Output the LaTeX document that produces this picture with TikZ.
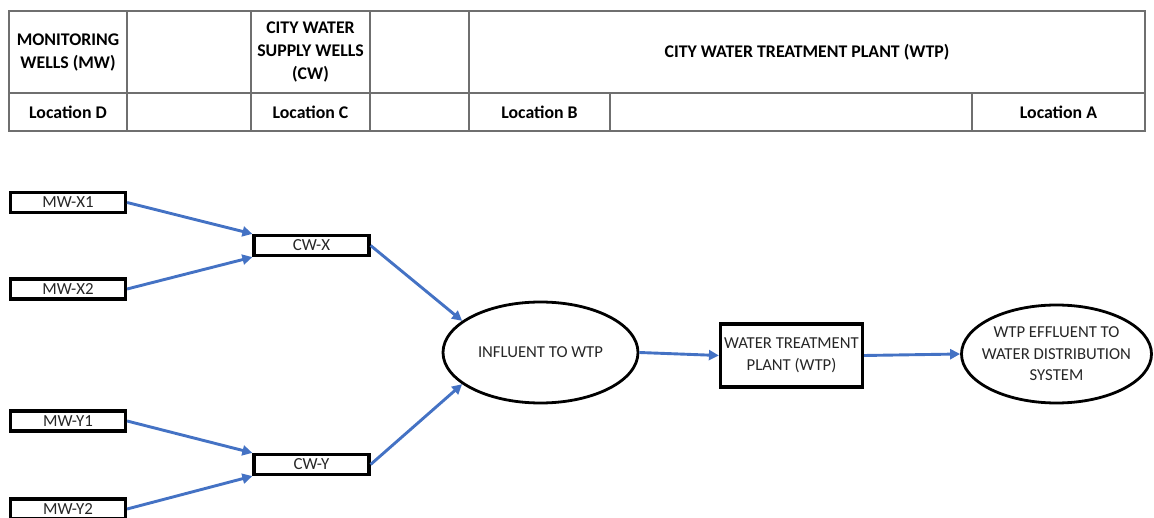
\documentclass[tikz,border=0pt]{standalone}
\usepackage{fontspec}
\setmainfont{Carlito}
\usetikzlibrary{shapes.geometric,arrows.meta}
\definecolor{flow}{HTML}{4472C4}
\definecolor{grid}{HTML}{6F6F6F}
\definecolor{txt}{HTML}{262626}
\tikzset{
  hdr/.style={font=\fontsize{17.8}{23}\selectfont\bfseries, align=center, inner sep=0pt},
  wellbox/.style={draw=black, line width=3.2pt, minimum width=115pt, minimum height=20pt, inner sep=0pt, text=txt, font=\fontsize{16.9}{20}\selectfont},
  oval/.style={ellipse, draw=black, line width=2.8pt, inner sep=0pt, text=txt, align=center, font=\fontsize{16.7}{21.5}\selectfont},
  plantbox/.style={draw=black, line width=3.2pt, minimum width=142pt, minimum height=63pt, inner sep=0pt, text=txt, align=center, font=\fontsize{16.7}{22}\selectfont},
  flowarrow/.style={draw=flow, line width=2.9pt, -{Triangle[length=10pt,width=10pt]}},
  gridline/.style={draw=grid, line width=1.5pt}
}
\begin{document}
\begin{tikzpicture}[x=1pt,y=-1pt]
\useasboundingbox (0,0) rectangle (1154,518);
\clip (0,0) rectangle (1154,518);
% table
\draw[gridline] (9,11) rectangle (1145,131);
\draw[gridline] (9,93) -- (1145,93);
\foreach \xx in {127,251,370,469} {\draw[gridline] (\xx,11) -- (\xx,131);}
\foreach \xx in {610,972} {\draw[gridline] (\xx,93) -- (\xx,131);}
\node[hdr] (h1) at (68,52.5) {MONITORING\\WELLS (MW)};
\node[hdr] (h2) at (310.5,52.5) {CITY WATER\\SUPPLY WELLS\\(CW)};
\node[hdr] (h3) at (807,52.5) {CITY WATER TREATMENT PLANT (WTP)};
\node[hdr] (lD) at (68,112.5) {Location D};
\node[hdr] (lC) at (310.5,112.5) {Location C};
\node[hdr] (lB) at (539.5,112.5) {Location B};
\node[hdr] (lA) at (1058.5,112.5) {Location A};
% wells
\node[wellbox] (mwx1) at (68,202.5) {MW-X1};
\node[wellbox] (mwx2) at (68,289) {MW-X2};
\node[wellbox] (cwx) at (311.5,245.5) {CW-X};
\node[wellbox] (mwy1) at (68,421) {MW-Y1};
\node[wellbox] (cwy) at (311.5,464.5) {CW-Y};
\node[wellbox] (mwy2) at (68,509) {MW-Y2};
% plant
\node[oval, minimum width=195pt, minimum height=101pt] (infl) at (540.5,352.5) {INFLUENT TO WTP};
\node[plantbox] (wtp) at (791.5,355.5) {WATER TREATMENT\\PLANT (WTP)};
\node[oval, inner xsep=-10pt, minimum width=190pt, minimum height=98pt] (eff) at (1056.5,354) {WTP EFFLUENT TO\\WATER DISTRIBUTION\\SYSTEM};
% flows
\draw[flowarrow] (mwx1.east) -- (cwx.north west);
\draw[flowarrow] (mwx2.east) -- (cwx.south west);
\draw[flowarrow] (mwy1.east) -- (cwy.north west);
\draw[flowarrow] (mwy2.east) -- (cwy.south west);
\draw[flowarrow] (cwx.east) -- (infl.158);
\draw[flowarrow] (cwy.east) -- (infl.202);
\draw[flowarrow] (infl.east) -- (wtp.west);
\draw[flowarrow] (wtp.east) -- (eff.west);
\end{tikzpicture}
\end{document}
